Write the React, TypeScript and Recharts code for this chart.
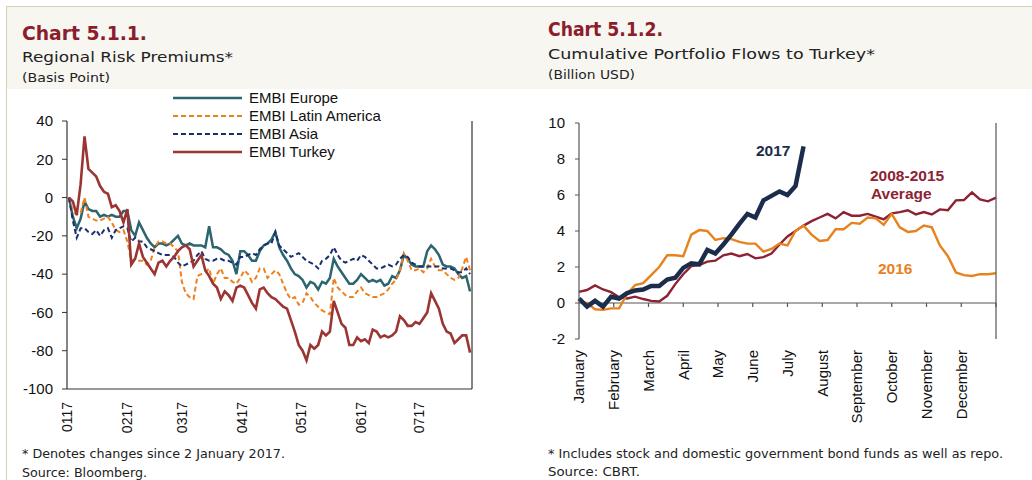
import React from "react"
import { Line, LineChart, ReferenceLine, XAxis, YAxis } from "recharts"

// chart 5.1.1 - EMBI spreads, change since 2 Jan 2017 (bp), every second day
const days = Array.from({ length: 104 }, (_, i) => 2 * i + 1)
const monthStarts = [0, 31, 59, 90, 120, 151, 181]
const monthCodes = ["0117", "0217", "0317", "0417", "0517", "0617", "0717"]
const premiumTicks = [-100, -80, -60, -40, -20, 0, 20, 40]

const embiEurope = [
    0, -10, -16, -11, -2, -6, -7, -7, -10, -9,
    -10, -9, -10, -10, -7, -7, -17, -20, -13, -17,
    -21, -24, -26, -24, -24, -25, -24, -22, -20, -24,
    -25, -24, -25, -25, -25, -26, -15, -26, -26, -27,
    -29, -30, -33, -40, -28, -28, -30, -33, -33, -28,
    -25, -24, -22, -18, -26, -30, -33, -37, -40, -41,
    -43, -47, -44, -45, -48, -44, -45, -42, -32, -36,
    -39, -42, -45, -45, -43, -40, -42, -44, -43, -44,
    -43, -46, -45, -41, -42, -38, -30, -32, -35, -36,
    -36, -36, -28, -25, -27, -30, -35, -36, -36, -37,
    -40, -42, -41, -49,
]
const embiLatam = [
    0, -7, -9, -8, 0, -10, -11, -12, -12, -11,
    -10, -13, -17, -18, -17, -23, -33, -32, -33, -33,
    -35, -33, -26, -23, -23, -24, -24, -26, -28, -44,
    -50, -52, -53, -41, -40, -39, -37, -45, -40, -37,
    -42, -42, -44, -45, -42, -38, -40, -44, -42, -37,
    -37, -42, -40, -38, -40, -45, -50, -53, -52, -56,
    -55, -50, -52, -55, -57, -59, -60, -61, -42, -47,
    -49, -51, -52, -52, -49, -47, -50, -51, -52, -52,
    -51, -50, -48, -45, -43, -38, -29, -33, -38, -38,
    -37, -39, -37, -32, -36, -38, -38, -40, -42, -43,
    -42, -37, -31, -38,
]
const embiAsia = [
    0, -12, -21, -16, -16, -18, -19, -17, -20, -17,
    -16, -21, -17, -16, -15, -16, -23, -21, -23, -23,
    -26, -27, -28, -29, -30, -30, -30, -31, -34, -36,
    -35, -34, -33, -30, -28, -32, -33, -33, -32, -32,
    -33, -33, -34, -35, -31, -31, -30, -29, -30, -27,
    -25, -24, -24, -18, -25, -27, -29, -31, -30, -29,
    -31, -33, -34, -35, -37, -33, -32, -30, -26, -30,
    -33, -34, -33, -32, -33, -30, -31, -33, -35, -37,
    -37, -36, -35, -36, -35, -32, -30, -31, -34, -35,
    -36, -36, -36, -36, -36, -36, -37, -37, -37, -38,
    -39, -39, -37, -40,
]
const embiTurkey = [
    0, -2, -9, 7, 32, 15, 13, 11, 6, 3,
    2, -5, -4, -7, -13, -6, -35, -32, -24, -31,
    -34, -37, -40, -34, -33, -36, -33, -31, -28, -26,
    -25, -27, -36, -33, -30, -38, -41, -45, -47, -53,
    -49, -51, -54, -47, -46, -47, -51, -55, -58, -48,
    -47, -50, -52, -53, -55, -57, -58, -64, -70, -77,
    -80, -85, -77, -79, -77, -70, -72, -70, -54, -60,
    -66, -68, -77, -77, -73, -75, -74, -76, -69, -70,
    -73, -72, -73, -72, -70, -62, -64, -67, -67, -65,
    -66, -63, -60, -50, -54, -58, -66, -70, -71, -76,
    -74, -72, -72, -81,
]

// chart 5.1.2 - cumulative portfolio flows, weekly (billion USD)
const weeks = Array.from({ length: 53 }, (_, i) => i)
const months = ["January", "February", "March", "April", "May", "June", "July",
    "August", "September", "October", "November", "December"]
const flowTicks = [-2, 0, 2, 4, 6, 8, 10]

const avg0815 = [
    0.62, 0.72, 0.98, 0.75, 0.6, 0.32, 0.25, 0.35, 0.22, 0.12,
    0.08, 0.4, 1.05, 1.6, 2.05, 2.1, 2.3, 2.35, 2.65, 2.75,
    2.6, 2.72, 2.48, 2.55, 2.75, 3.25, 3.7, 4.0, 4.3, 4.55,
    4.75, 4.95, 4.7, 5.05, 4.85, 4.85, 4.95, 4.8, 4.65, 4.98,
    5.05, 5.15, 4.92, 5.05, 4.92, 5.2, 5.15, 5.7, 5.72, 6.15,
    5.75, 5.65, 5.85,
]
const flows2016 = [
    0.05, 0, -0.35, -0.38, -0.3, -0.3, 0.5, 1.0, 1.1, 1.55,
    2.0, 2.65, 2.65, 2.6, 3.8, 4.05, 4.0, 3.5, 3.6, 3.55,
    3.4, 3.3, 3.3, 2.85, 3.0, 3.3, 3.2, 4.0, 4.3, 3.8,
    3.45, 3.5, 4.1, 4.1, 4.45, 4.4, 4.75, 4.7, 4.35, 4.95,
    4.2, 3.95, 4.0, 4.3, 4.2, 3.2, 2.6, 1.7, 1.55, 1.5,
    1.6, 1.6, 1.65,
]
const flows2017 = [
    0.25, -0.2, 0.12, -0.2, 0.35, 0.25, 0.55, 0.7, 0.75, 0.95,
    0.95, 1.3, 1.4, 1.95, 2.2, 2.15, 2.95, 2.75, 3.25, 3.8,
    4.4, 4.95, 4.75, 5.7, 5.95, 6.2, 6.0, 6.5, 8.7,
]

const riskData = days.map((d, i) => ({
    d,
    europe: embiEurope[i],
    latam: embiLatam[i],
    asia: embiAsia[i],
    turkey: embiTurkey[i],
}))
const flowData = weeks.map((w, i) => ({
    w,
    avg: avg0815[i],
    f2016: flows2016[i],
    f2017: i < flows2017.length ? flows2017[i] : null,
}))
const monthPos = months.map((_, i) => (i * 52) / 12)

const axisFont = "'Liberation Sans', Arial, sans-serif"
const headFont = "'DejaVu Sans', sans-serif"
const titleRed = "#8b1d2c"
const tickStyle = { fontSize: 15, fill: "#111", fontFamily: axisFont }

const riskSeries = [
    { key: "europe", name: "EMBI Europe", color: "#2b6570", width: 2.5, dash: undefined },
    { key: "latam", name: "EMBI Latin America", color: "#ef801c", width: 2, dash: "5 3" },
    { key: "asia", name: "EMBI Asia", color: "#1a2f6e", width: 2, dash: "5 3" },
    { key: "turkey", name: "EMBI Turkey", color: "#9b3533", width: 2.6, dash: undefined },
]

const RotatedTick = (props: any) => {
    const { x, y, index, labels, size } = props
    return (
        <text x={x} y={y} transform={`rotate(-90 ${x} ${y})`} textAnchor="end" dy="0.36em"
            fontSize={size} fontFamily={axisFont} fill="#111">
            {labels[index]}
        </text>
    )
}

const RiskChart = () => (
    <div style={{ position: "absolute", left: 0, top: 0 }}>
        <LineChart width={520} height={480} data={riskData} margin={{ top: 121, right: 0, bottom: 0, left: 0 }}>
            <XAxis dataKey="d" type="number" domain={[0, 208]} ticks={monthStarts} interval={0} height={91}
                tickLine={false} tickSize={0} tickMargin={13} axisLine={{ stroke: "#333", strokeWidth: 1.2 }}
                tick={(p: any) => <RotatedTick {...p} labels={monthCodes} size={14} />} />
            <YAxis yAxisId="l" domain={[-100, 40]} ticks={premiumTicks} interval={0} width={67}
                tickSize={5} tickMargin={9} tick={tickStyle}
                axisLine={{ stroke: "#333", strokeWidth: 1.2 }} tickLine={{ stroke: "#333" }} />
            <YAxis yAxisId="r" orientation="right" domain={[-100, 40]} ticks={premiumTicks} interval={0} width={48}
                tickSize={5} tickMargin={2} tick={tickStyle}
                axisLine={{ stroke: "#333", strokeWidth: 1.2 }} tickLine={{ stroke: "#333" }} />
            {riskSeries.map(s => (
                <Line key={s.key} yAxisId="l" type="linear" dataKey={s.key} stroke={s.color} strokeWidth={s.width}
                    strokeDasharray={s.dash} dot={false} isAnimationActive={false} />
            ))}
        </LineChart>
    </div>
)

const FlowChart = () => (
    <div style={{ position: "absolute", left: 520, top: 0 }}>
        <LineChart width={512} height={480} data={flowData} margin={{ top: 123, right: 0, bottom: 0, left: 0 }}>
            <XAxis dataKey="w" type="number" domain={[0, 52]} ticks={monthPos} interval={0} height={141}
                axisLine={false} tickLine={false} tickSize={0} tickMargin={11}
                tick={(p: any) => <RotatedTick {...p} labels={months} size={15} />} />
            <YAxis yAxisId="l" domain={[-2, 10]} ticks={flowTicks} interval={0} width={59}
                tickSize={4} tickMargin={10} tick={tickStyle}
                axisLine={{ stroke: "#555", strokeWidth: 1.2 }} tickLine={{ stroke: "#555" }} />
            <YAxis yAxisId="r" orientation="right" domain={[-2, 10]} ticks={flowTicks} interval={0} width={36}
                tickSize={4} tickMargin={10} tick={tickStyle}
                axisLine={{ stroke: "#555", strokeWidth: 1.2 }} tickLine={{ stroke: "#555" }} />
            <ReferenceLine yAxisId="l" y={0} stroke="#555" strokeWidth={1.2} />
            {monthPos.slice(1).concat(52).map(m => (
                <ReferenceLine key={m} yAxisId="l" segment={[{ x: m, y: 0 }, { x: m, y: -0.22 }]}
                    stroke="#555" strokeWidth={1.2} />
            ))}
            <Line yAxisId="l" type="linear" dataKey="avg" stroke="#8c2234" strokeWidth={2.4} dot={false} isAnimationActive={false} />
            <Line yAxisId="l" type="linear" dataKey="f2016" stroke="#e8821e" strokeWidth={2.4} dot={false} isAnimationActive={false} />
            <Line yAxisId="l" type="linear" dataKey="f2017" stroke="#1b2d4a" strokeWidth={4.5} dot={false}
                connectNulls={false} isAnimationActive={false} />
        </LineChart>
    </div>
)

const Overlay = () => (
    <svg width={1032} height={480} style={{ position: "absolute", left: 0, top: 0, pointerEvents: "none" }}>
        {/* headers */}
        <text x={22} y={40} fontFamily={headFont} fontWeight="bold" fontSize={19} fill={titleRed}
            textLength={125} lengthAdjust="spacingAndGlyphs">Chart 5.1.1.</text>
        <text x={22} y={62} fontFamily={headFont} fontSize={14} fill="#222"
            textLength={211} lengthAdjust="spacingAndGlyphs">Regional Risk Premiums*</text>
        <text x={22} y={82} fontFamily={headFont} fontSize={12.5} fill="#222"
            textLength={88} lengthAdjust="spacingAndGlyphs">(Basis Point)</text>
        <text x={548} y={36} fontFamily={headFont} fontWeight="bold" fontSize={19} fill={titleRed}
            textLength={115} lengthAdjust="spacingAndGlyphs">Chart 5.1.2.</text>
        <text x={548} y={59} fontFamily={headFont} fontSize={14} fill="#222"
            textLength={327} lengthAdjust="spacingAndGlyphs">Cumulative Portfolio Flows to Turkey*</text>
        <text x={548} y={79} fontFamily={headFont} fontSize={12.5} fill="#222"
            textLength={87} lengthAdjust="spacingAndGlyphs">(Billion USD)</text>

        {/* legend of chart 5.1.1 */}
        {riskSeries.map((s, i) => (
            <g key={s.key}>
                <line x1={173} x2={242} y1={98 + i * 18} y2={98 + i * 18} stroke={s.color}
                    strokeWidth={s.width} strokeDasharray={s.dash} />
                <text x={249} y={98 + i * 18} dy="0.35em" fontFamily={axisFont} fontSize={15} fill="#111">{s.name}</text>
            </g>
        ))}

        {/* series labels of chart 5.1.2 */}
        <text x={756} y={156} fontFamily={axisFont} fontWeight="bold" fontSize={15.5} fill="#1b2d4a">2017</text>
        <text x={870} y={181} fontFamily={axisFont} fontWeight="bold" fontSize={15.5} fill="#8c2234">2008-2015</text>
        <text x={871} y={199} fontFamily={axisFont} fontWeight="bold" fontSize={15.5} fill="#8c2234">Average</text>
        <text x={878} y={274} fontFamily={axisFont} fontWeight="bold" fontSize={15.5} fill="#e8821e">2016</text>

        {/* footnotes */}
        <text x={22} y={458} fontFamily={headFont} fontSize={11.5} fill="#222"
            textLength={263} lengthAdjust="spacingAndGlyphs">* Denotes changes since 2 January 2017.</text>
        <text x={22} y={477} fontFamily={headFont} fontSize={11.5} fill="#222"
            textLength={125} lengthAdjust="spacingAndGlyphs">Source: Bloomberg.</text>
        <text x={548} y={458} fontFamily={headFont} fontSize={11.5} fill="#222"
            textLength={455} lengthAdjust="spacingAndGlyphs">* Includes stock and domestic government bond funds as well as repo.</text>
        <text x={548} y={476} fontFamily={headFont} fontSize={11.5} fill="#222"
            textLength={92} lengthAdjust="spacingAndGlyphs">Source: CBRT.</text>
    </svg>
)

const App = () => (
    <div style={{ position: "absolute", left: 0, top: 0, width: 1032, height: 480, background: "#fff", overflow: "hidden" }}>
        <div style={{ position: "absolute", left: 6, top: 6, width: 1026, height: 82, background: "#f7f6f1", borderTop: "1px solid #d8ceb0" }} />
        <div style={{ position: "absolute", left: 6, top: 6, width: 1, height: 474, background: "#d8ceb0" }} />
        <RiskChart />
        <FlowChart />
        <Overlay />
    </div>
)

export default App
